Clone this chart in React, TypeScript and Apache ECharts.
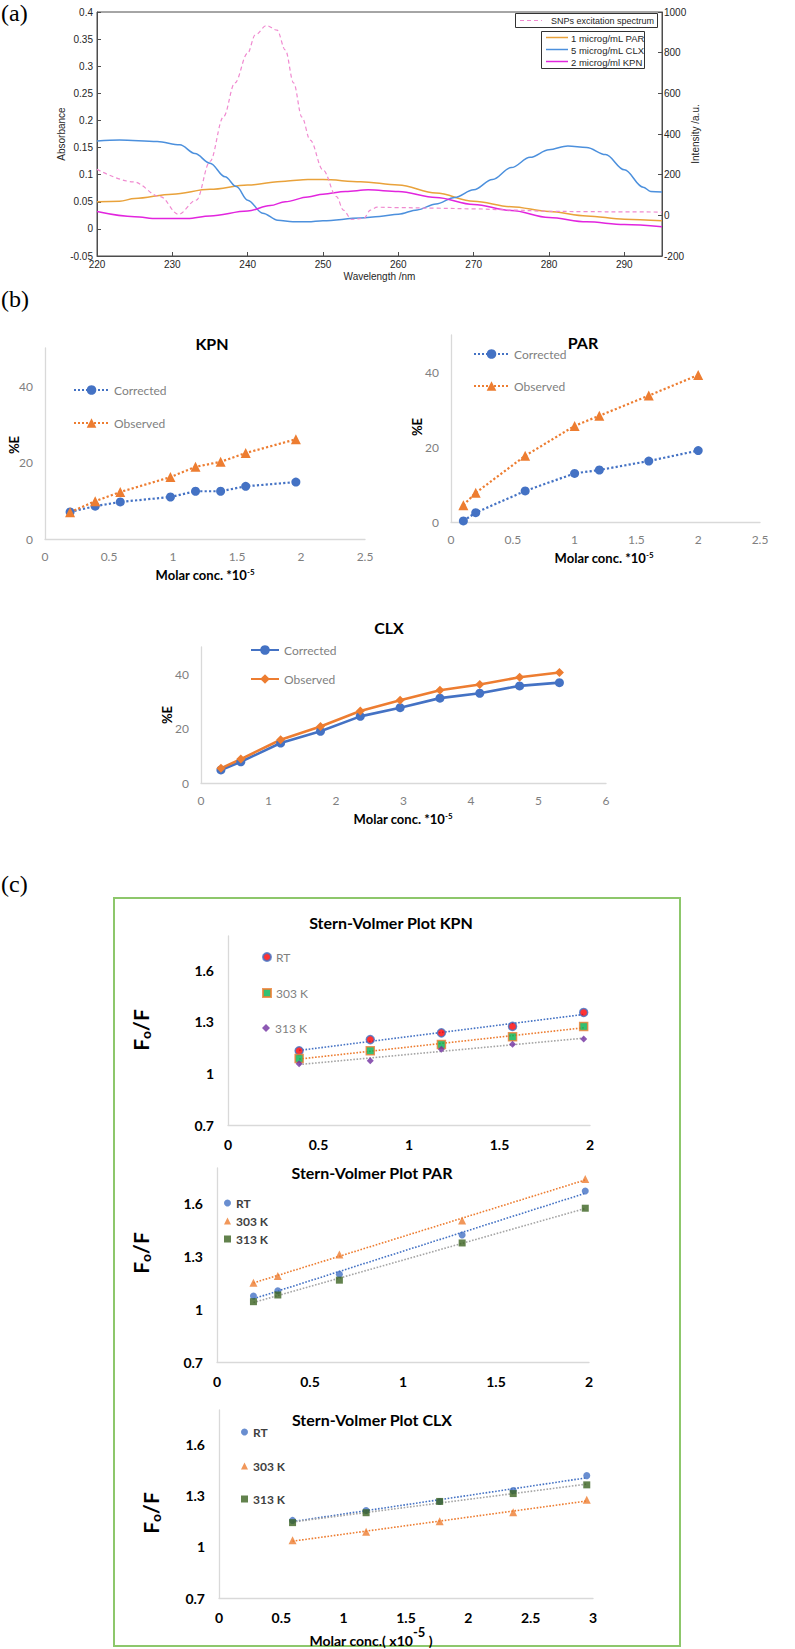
import React, { useEffect, useRef } from 'react';
import * as echarts from 'echarts';

// ---------- Panel (a): spectra ----------
const A_X_TICKS = [220, 230, 240, 250, 260, 270, 280, 290];
const SNP_WL = [220, 224.8, 228.4, 230.8, 233.2, 235, 236.8, 238.3, 240, 241, 242.5, 243.9, 245, 246.1, 247.2, 248.3, 250, 251.8, 252.7, 253.8, 255.4, 256.3, 257.2, 260, 265, 270, 275, 280, 285, 290, 295];
const SNP_INT = [226, 165, 92, 5, 75, 265, 485, 651, 798, 887, 933, 911, 813, 651, 483, 370, 223, 92, 26, -20, -15, 26, 40, 38, 35, 32, 26, 20, 18, 17, 16];
const PAR_WL = [220, 223, 225, 230, 235, 240, 245, 248, 250, 255, 260, 265, 270, 275, 280, 285, 290, 295];
const PAR_ABS = [0.05, 0.051, 0.056, 0.064, 0.073, 0.081, 0.088, 0.091, 0.091, 0.087, 0.081, 0.066, 0.051, 0.041, 0.032, 0.024, 0.018, 0.015];
const CLX_WL = [220, 223, 228, 231, 233, 235, 237, 238.5, 240, 242, 244, 246, 248, 250, 255, 257.5, 260, 262.5, 265, 267.5, 270, 272.5, 275, 277.5, 280, 282.5, 285, 287.5, 290, 292.5, 293.5, 295];
const CLX_ABS = [0.162, 0.164, 0.161, 0.155, 0.139, 0.121, 0.096, 0.078, 0.053, 0.029, 0.016, 0.013, 0.013, 0.015, 0.02, 0.023, 0.027, 0.035, 0.046, 0.058, 0.072, 0.091, 0.113, 0.132, 0.146, 0.153, 0.15, 0.137, 0.109, 0.077, 0.069, 0.068];
const KPN_WL = [220, 225, 228, 232, 235, 240, 243, 245, 248, 250, 253, 256, 260, 265, 270, 275, 280, 285, 290, 295];
const KPN_ABS = [0.032, 0.0225, 0.019, 0.019, 0.024, 0.033, 0.043, 0.05, 0.059, 0.064, 0.069, 0.072, 0.069, 0.058, 0.045, 0.034, 0.021, 0.013, 0.008, 0.004];

// ---------- Panel (b): %E ----------
const B_Y_TICKS = [0, 20, 40];
const KPN_CONC = [0.196, 0.392, 0.588, 0.98, 1.176, 1.372, 1.568, 1.96];
const KPN_CORR = [7.1, 8.6, 9.7, 11.0, 12.5, 12.5, 13.8, 14.9];
const KPN_OBS = [7.0, 9.9, 12.3, 16.2, 18.9, 20.2, 22.5, 26.1];
const PAR_CONC = [0.1, 0.2, 0.6, 1.0, 1.2, 1.6, 2.0];
const PAR_CORR = [0.3, 2.5, 8.3, 13.0, 13.9, 16.3, 19.1];
const PAR_OBS = [4.5, 7.8, 17.7, 25.7, 28.4, 33.8, 39.3];
const CLX_CONC = [0.295, 0.59, 1.18, 1.77, 2.36, 2.95, 3.54, 4.13, 4.72, 5.31];
const CLX_CORR = [4.8, 7.8, 14.7, 19.0, 24.5, 27.7, 31.2, 33.0, 35.7, 36.9];
const CLX_OBS = [5.4, 8.8, 15.9, 20.8, 26.5, 30.4, 34.1, 36.2, 38.9, 40.6];

// ---------- Panel (c): Stern-Volmer ----------
const SV_Y_TICKS = [0.7, 1, 1.3, 1.6];
const SV_KPN_CONC = [0.393, 0.786, 1.179, 1.572, 1.965];
const SV_KPN_RT = [1.132, 1.197, 1.236, 1.274, 1.355];
const SV_KPN_303 = [1.087, 1.132, 1.168, 1.213, 1.274];
const SV_KPN_313 = [1.057, 1.074, 1.141, 1.17, 1.201];
const SV_PAR_CONC = [0.196, 0.327, 0.658, 1.318, 1.98];
const SV_PAR_RT = [1.074, 1.104, 1.198, 1.42, 1.67];
const SV_PAR_303 = [1.149, 1.188, 1.309, 1.503, 1.738];
const SV_PAR_313 = [1.042, 1.08, 1.164, 1.375, 1.572];
const SV_CLX_CONC = [0.59, 1.18, 1.77, 2.36, 2.95];
const SV_CLX_RT = [1.154, 1.212, 1.265, 1.329, 1.416];
const SV_CLX_303 = [1.038, 1.087, 1.149, 1.201, 1.275];
const SV_CLX_313 = [1.141, 1.199, 1.265, 1.311, 1.362];

const ARIAL = '"Liberation Sans", Arial, sans-serif';
const CAL = 'Lato, "Open Sans", sans-serif';
const SERIF = '"Liberation Serif", "Times New Roman", serif';

const BLUE = '#4472C4';
const ORANGE = '#ED7D31';
const GRAY = '#A5A5A5';

const zip = (xs: number[], ys: number[]) => xs.map((x, i) => [x, ys[i]]);

function trend(xs: number[], ys: number[]) {
  const n = xs.length;
  const mx = xs.reduce((a, b) => a + b, 0) / n;
  const my = ys.reduce((a, b) => a + b, 0) / n;
  let sxy = 0;
  let sxx = 0;
  for (let i = 0; i < n; i++) {
    sxy += (xs[i] - mx) * (ys[i] - my);
    sxx += (xs[i] - mx) * (xs[i] - mx);
  }
  const b = sxy / sxx;
  const a = my - b * mx;
  return [[xs[0], a + b * xs[0]], [xs[n - 1], a + b * xs[n - 1]]];
}

const AX_DARK = '#4d4d4d';
const EXCEL_LINE = '#D9D9D9';

const grayLabel = { color: '#7F7F7F', fontSize: 12, fontFamily: CAL };
const boldLabel = { color: '#000', fontSize: 14, fontWeight: 'bold', fontFamily: CAL };

function excelX(gridIndex: number, max: number, interval: number, label: any, margin: number) {
  return {
    type: 'value', gridIndex, min: 0, max, interval,
    axisLine: { show: true, onZero: false, lineStyle: { color: EXCEL_LINE, width: 1.3 } },
    axisTick: { show: false }, splitLine: { show: false },
    axisLabel: { ...label, margin },
  };
}
function excelY(gridIndex: number, min: number, max: number, ticks: number[], label: any, margin: number) {
  return {
    type: 'value', gridIndex, min, max,
    axisLine: { show: true, onZero: false, lineStyle: { color: EXCEL_LINE, width: 1.3 } },
    axisTick: { show: false }, splitLine: { show: false },
    axisLabel: { ...label, margin, customValues: ticks, formatter: (v: number) => String(Math.round(v * 100) / 100) },
  };
}

function pctLine(name: string, xi: number, yi: number, xs: number[], ys: number[], color: string, symbol: string, size: number, dotted: boolean) {
  return {
    type: 'line', name, xAxisIndex: xi, yAxisIndex: yi, data: zip(xs, ys),
    symbol, symbolSize: size, showSymbol: true,
    itemStyle: { color },
    lineStyle: { color, width: dotted ? 2.2 : 2.6, type: dotted ? 'dotted' : 'solid' },
    z: 3,
  };
}

function svSeries(prefix: string, xi: number, yi: number, xs: number[], ys: number[], name: string, lineColor: string, sym: string, size: number, itemStyle: any) {
  return [
    {
      type: 'line', name: prefix + ':' + name + ' fit', xAxisIndex: xi, yAxisIndex: yi,
      data: trend(xs, ys), symbol: 'none',
      lineStyle: { color: lineColor, width: 1.6, type: 'dotted' }, z: 2,
    },
    {
      type: 'scatter', name: prefix + ':' + name, xAxisIndex: xi, yAxisIndex: yi,
      data: zip(xs, ys), symbol: sym, symbolSize: size, itemStyle, z: 4,
    },
  ];
}

const fmt = (n: string) => n.split(':')[1];

function leg(name: string, left: number, cy: number, iw: number, ih: number, text: any) {
  return {
    show: true, data: [name], left, top: cy - 7, orient: 'vertical', padding: 0,
    itemWidth: iw, itemHeight: ih, itemGap: 0, selectedMode: false, formatter: fmt,
    textStyle: { lineHeight: 14, ...text },
  };
}

function txt(text: string, x: number, y: number, o: any = {}) {
  return {
    type: 'text', x, y, rotation: o.rot || 0, z: 100,
    style: {
      text, fill: o.fill || '#000', fontSize: o.size || 12, fontWeight: o.weight || 'normal',
      fontFamily: o.family || CAL, align: o.align || 'center', verticalAlign: o.va || 'middle',
      rich: o.rich,
    },
  };
}

const molarRich = {
  m: { fontSize: 13, fontWeight: 'bold', fontFamily: CAL, fill: '#000', lineHeight: 14 },
  s: { fontSize: 8, fontWeight: 'bold', fontFamily: CAL, fill: '#000', lineHeight: 8, verticalAlign: 'top' },
};
const foRich = {
  F: { fontSize: 21, fontWeight: 'bold', fontFamily: CAL, fill: '#000', lineHeight: 24 },
  o: { fontSize: 14, fontWeight: 'bold', fontFamily: CAL, fill: '#000', lineHeight: 10, verticalAlign: 'bottom' },
};

function buildOption() {
  const aLabel = { color: '#262626', fontSize: 10, fontFamily: ARIAL };
  const aName = { color: '#262626', fontSize: 10, fontFamily: ARIAL };

  const grid = [
    { left: 97, top: 12, width: 565, height: 244, show: true, borderColor: AX_DARK, borderWidth: 1, outerBoundsMode: 'none' },
    { left: 45, top: 348, width: 320, height: 191, outerBoundsMode: 'none' },
    { left: 451, top: 335, width: 309, height: 187, outerBoundsMode: 'none' },
    { left: 201, top: 647, width: 405, height: 136, outerBoundsMode: 'none' },
    { left: 228, top: 936, width: 362, height: 189, outerBoundsMode: 'none' },
    { left: 217, top: 1168, width: 372, height: 194, outerBoundsMode: 'none' },
    { left: 219, top: 1410, width: 374, height: 188, outerBoundsMode: 'none' },
  ];

  const xAxis = [
    {
      type: 'value', gridIndex: 0, min: 220, max: 295,
      axisLine: { show: true, onZero: false, lineStyle: { color: AX_DARK } },
      axisTick: { show: true, inside: true, length: 4, customValues: A_X_TICKS, lineStyle: { color: AX_DARK } },
      axisLabel: { ...aLabel, margin: 3, customValues: A_X_TICKS },
      splitLine: { show: false },
      name: 'Wavelength /nm', nameLocation: 'middle', nameGap: 15, nameMoveOverlap: false, nameTextStyle: aName,
    },
    excelX(1, 2.5, 0.5, grayLabel, 11),
    excelX(2, 2.5, 0.5, grayLabel, 11),
    excelX(3, 6, 1, grayLabel, 11),
    excelX(4, 2, 0.5, boldLabel, 12),
    excelX(5, 2, 0.5, boldLabel, 12),
    excelX(6, 3, 0.5, boldLabel, 12),
  ];

  const yAxis = [
    {
      type: 'value', gridIndex: 0, position: 'left', min: -0.05, max: 0.4, interval: 0.05,
      axisLine: { show: true, onZero: false, lineStyle: { color: AX_DARK } },
      axisTick: { show: true, inside: true, length: 4, lineStyle: { color: AX_DARK } },
      axisLabel: { ...aLabel, margin: 4, formatter: (v: number) => String(Math.round(v * 100) / 100) },
      splitLine: { show: false },
      name: 'Absorbance', nameLocation: 'middle', nameGap: 31, nameRotate: 90, nameMoveOverlap: false, nameTextStyle: aName,
    },
    {
      type: 'value', gridIndex: 0, position: 'right', min: -200, max: 1000, interval: 200,
      axisLine: { show: true, onZero: false, lineStyle: { color: AX_DARK } },
      axisTick: { show: true, inside: true, length: 4, lineStyle: { color: AX_DARK } },
      axisLabel: { ...aLabel, margin: 2, formatter: (v: number) => String(v) },
      splitLine: { show: false },
      name: 'Intensity /a.u.', nameLocation: 'middle', nameGap: 28, nameRotate: 90, nameMoveOverlap: false, nameTextStyle: aName,
    },
    excelY(1, 0, 50, B_Y_TICKS, grayLabel, 12),
    excelY(2, 0, 50, B_Y_TICKS, grayLabel, 12),
    excelY(3, 0, 50, B_Y_TICKS, grayLabel, 12),
    excelY(4, 0.7, 1.8, SV_Y_TICKS, boldLabel, 14),
    excelY(5, 0.7, 1.8, SV_Y_TICKS, boldLabel, 14),
    excelY(6, 0.7, 1.8, SV_Y_TICKS, boldLabel, 14),
  ];

  const specLine = (name: string, xs: number[], ys: number[], color: string, yi: number, dash: any) => ({
    type: 'line', name, xAxisIndex: 0, yAxisIndex: yi, data: zip(xs, ys),
    smooth: 0.35, smoothMonotone: 'x', symbol: 'none',
    lineStyle: { color, width: dash ? 1.2 : 1.5, type: dash || 'solid' }, z: 3,
  });

  const series: any[] = [
    specLine('1 microg/mL PAR', PAR_WL, PAR_ABS, '#E9A23B', 0, null),
    specLine('5 microg/mL CLX', CLX_WL, CLX_ABS, '#4C90DD', 0, null),
    specLine('2 microg/ml KPN', KPN_WL, KPN_ABS, '#E225DE', 0, null),
    specLine('SNPs excitation spectrum', SNP_WL, SNP_INT, '#F08AD0', 1, [4, 3]),

    pctLine('KPN:Corrected', 1, 2, KPN_CONC, KPN_CORR, BLUE, 'circle', 9, true),
    pctLine('KPN:Observed', 1, 2, KPN_CONC, KPN_OBS, ORANGE, 'triangle', 10, true),
    pctLine('PAR:Corrected', 2, 3, PAR_CONC, PAR_CORR, BLUE, 'circle', 9, true),
    pctLine('PAR:Observed', 2, 3, PAR_CONC, PAR_OBS, ORANGE, 'triangle', 10, true),
    pctLine('CLX:Corrected', 3, 4, CLX_CONC, CLX_CORR, BLUE, 'circle', 9, false),
    pctLine('CLX:Observed', 3, 4, CLX_CONC, CLX_OBS, ORANGE, 'diamond', 9, false),

    ...svSeries('SVKPN', 4, 5, SV_KPN_CONC, SV_KPN_RT, 'RT', BLUE, 'circle', 8, { color: '#FF0000', borderColor: BLUE, borderWidth: 1.5 }),
    ...svSeries('SVKPN', 4, 5, SV_KPN_CONC, SV_KPN_303, '303 K', ORANGE, 'rect', 8, { color: '#00B050', borderColor: ORANGE, borderWidth: 1.5 }),
    ...svSeries('SVKPN', 4, 5, SV_KPN_CONC, SV_KPN_313, '313 K', GRAY, 'diamond', 7, { color: '#7030A0' }),

    ...svSeries('SVPAR', 5, 6, SV_PAR_CONC, SV_PAR_RT, 'RT', BLUE, 'circle', 7, { color: BLUE }),
    ...svSeries('SVPAR', 5, 6, SV_PAR_CONC, SV_PAR_303, '303 K', ORANGE, 'triangle', 8, { color: ORANGE }),
    ...svSeries('SVPAR', 5, 6, SV_PAR_CONC, SV_PAR_313, '313 K', GRAY, 'rect', 7, { color: '#3B6320' }),

    ...svSeries('SVCLX', 6, 7, SV_CLX_CONC, SV_CLX_RT, 'RT', BLUE, 'circle', 7, { color: BLUE }),
    ...svSeries('SVCLX', 6, 7, SV_CLX_CONC, SV_CLX_303, '303 K', ORANGE, 'triangle', 8, { color: ORANGE }),
    ...svSeries('SVCLX', 6, 7, SV_CLX_CONC, SV_CLX_313, '313 K', GRAY, 'rect', 7, { color: '#3B6320' }),
  ];

  const legText = { color: '#7F7F7F', fontSize: 12, fontFamily: CAL };
  const legBold = { color: '#404040', fontSize: 12, fontWeight: 'bold', fontFamily: CAL };
  const legend = [
    leg('KPN:Corrected', 73, 390, 35, 12, legText),
    leg('KPN:Observed', 73, 423, 35, 12, legText),
    leg('PAR:Corrected', 473, 354, 35, 12, legText),
    leg('PAR:Observed', 473, 386, 35, 12, legText),
    leg('CLX:Corrected', 250, 650, 28, 12, legText),
    leg('CLX:Observed', 250, 679, 28, 12, legText),
    leg('SVKPN:RT', 262, 957, 8, 8, legText),
    leg('SVKPN:303 K', 262, 993, 8, 8, legText),
    leg('SVKPN:313 K', 262, 1028, 8, 8, legText),
    leg('SVPAR:RT', 224, 1203, 7, 7, legBold),
    leg('SVPAR:303 K', 224, 1221, 7, 7, legBold),
    leg('SVPAR:313 K', 224, 1239, 7, 7, legBold),
    leg('SVCLX:RT', 241, 1432, 7, 7, legBold),
    leg('SVCLX:303 K', 241, 1466, 7, 7, legBold),
    leg('SVCLX:313 K', 241, 1499, 7, 7, legBold),
  ];

  const aLeg = (t: string, x: number, y: number, size: number) => txt(t, x, y, { size, family: ARIAL, align: 'left', fill: '#262626' });
  const lline = (x1: number, x2: number, y: number, color: string, dash?: number[]) => ({
    type: 'line', z: 101, shape: { x1, y1: y, x2, y2: y },
    style: { stroke: color, lineWidth: dash ? 1.2 : 1.5, lineDash: dash || null },
  });

  const graphic = [
    txt('(a)', 1, 1, { size: 24, family: SERIF, align: 'left', va: 'top' }),
    txt('(b)', 1, 287, { size: 24, family: SERIF, align: 'left', va: 'top' }),
    txt('(c)', 1, 872, { size: 24, family: SERIF, align: 'left', va: 'top' }),

    // panel (a) legends
    { type: 'rect', z: 100, shape: { x: 515.5, y: 13.5, width: 142, height: 14 }, style: { fill: '#fff', stroke: '#333', lineWidth: 1 } },
    lline(520, 542, 20.5, '#F08AD0', [4, 3]),
    aLeg('SNPs excitation spectrum', 551, 21, 9),
    { type: 'rect', z: 100, shape: { x: 541.5, y: 31.5, width: 103, height: 37 }, style: { fill: '#fff', stroke: '#333', lineWidth: 1 } },
    lline(546, 568, 37.5, '#E9A23B'),
    aLeg('1 microg/mL PAR', 571, 38, 9.5),
    lline(546, 568, 49.5, '#4C90DD'),
    aLeg('5 microg/mL CLX', 571, 50, 9.5),
    lline(546, 568, 61.5, '#E225DE'),
    aLeg('2 microg/ml KPN', 571, 62, 9.5),

    // panel (b) titles and axis names
    txt('KPN', 212, 343, { size: 16, weight: 'bold' }),
    txt('PAR', 583, 342, { size: 16, weight: 'bold' }),
    txt('CLX', 389, 627, { size: 16, weight: 'bold' }),
    txt('%E', 14, 445, { size: 13, weight: 'bold', rot: Math.PI / 2 }),
    txt('%E', 417, 427, { size: 13, weight: 'bold', rot: Math.PI / 2 }),
    txt('%E', 167, 715, { size: 13, weight: 'bold', rot: Math.PI / 2 }),
    txt('{m|Molar conc. *10}{s|-5}', 205, 575, { rich: molarRich }),
    txt('{m|Molar conc. *10}{s|-5}', 604, 558, { rich: molarRich }),
    txt('{m|Molar conc. *10}{s|-5}', 403, 819, { rich: molarRich }),

    // panel (c)
    { type: 'rect', z: 1, shape: { x: 114, y: 898, width: 566, height: 748 }, style: { fill: 'none', stroke: '#8DC76B', lineWidth: 2 } },
    txt('Stern-Volmer Plot KPN', 391, 922, { size: 16, weight: 'bold' }),
    txt('Stern-Volmer Plot PAR', 372, 1172, { size: 16, weight: 'bold' }),
    txt('Stern-Volmer Plot CLX', 372, 1419, { size: 16, weight: 'bold' }),
    txt('{F|F}{o|o}{F|/F}', 140, 1030, { rot: Math.PI / 2, rich: foRich }),
    txt('{F|F}{o|o}{F|/F}', 140, 1253, { rot: Math.PI / 2, rich: foRich }),
    txt('{F|F}{o|o}{F|/F}', 150, 1513, { rot: Math.PI / 2, rich: foRich }),
    txt('{m|Molar conc.( x10}{s|-5}{m| )}', 371, 1640, {
      rich: {
        m: { fontSize: 14, fontWeight: 'bold', fontFamily: CAL, fill: '#000', lineHeight: 30 },
        s: { fontSize: 13, fontWeight: 'bold', fontFamily: CAL, fill: '#000', lineHeight: 8, verticalAlign: 'top' },
      },
    }),
  ];

  return { animation: false, backgroundColor: '#fff', grid, xAxis, yAxis, series, legend, graphic };
}

export default function App() {
  const ref = useRef<HTMLDivElement>(null);
  useEffect(() => {
    const chart = echarts.init(ref.current!, null, { renderer: 'svg' });
    chart.setOption(buildOption() as any);
    return () => chart.dispose();
  }, []);
  return (
    <div
      ref={ref}
      style={{ position: 'absolute', left: 0, top: 0, width: 795, height: 1649, background: '#fff' }}
    />
  );
}
